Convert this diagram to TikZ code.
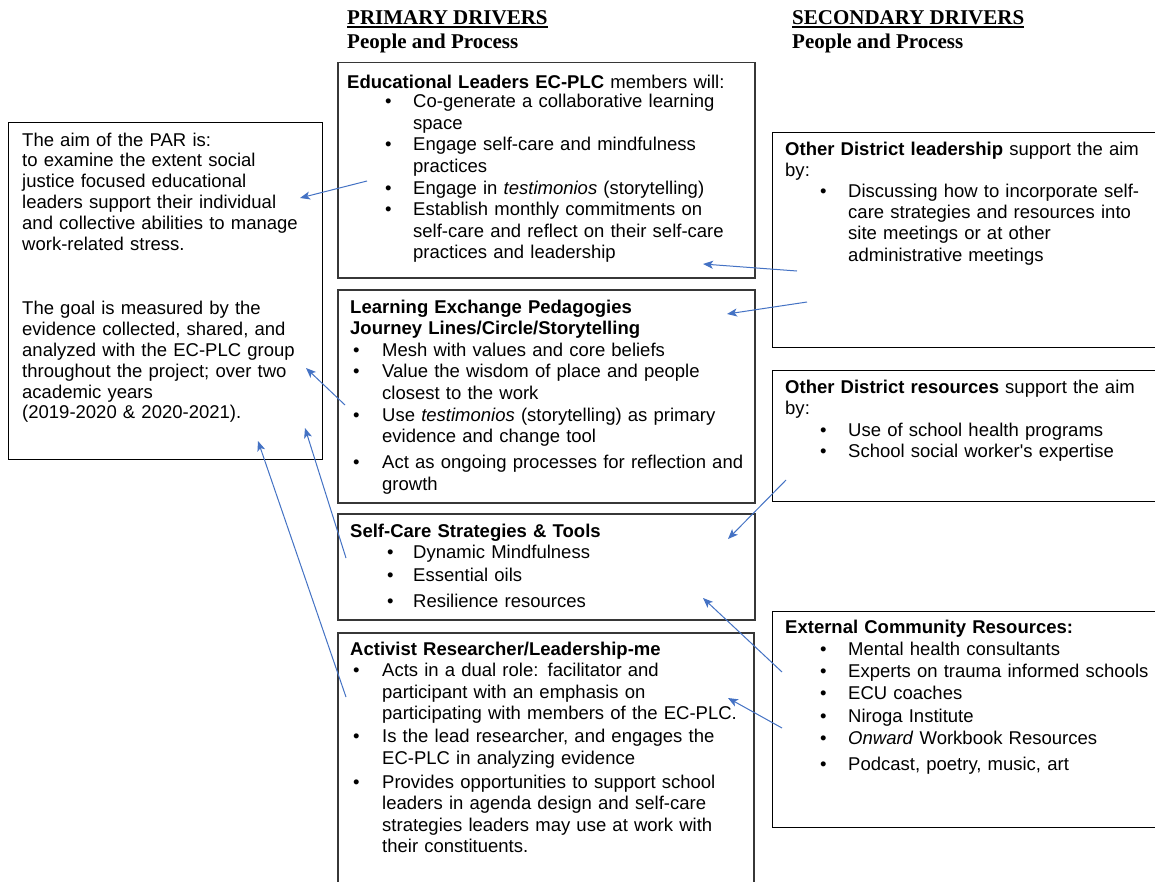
\documentclass[tikz,border=0pt]{standalone}
\usepackage{fontspec}
\setmainfont{Liberation Sans}
\newfontfamily\headfont{Liberation Serif}
\usetikzlibrary{arrows.meta,calc}
\definecolor{linkblue}{RGB}{68,114,196}
\definecolor{framegray}{RGB}{55,55,55}
% bullet item: #1 text indent, #2 bullet-to-text distance, #3 text
\newcommand\itm[3]{\par{\leftskip=#1\relax\noindent\llap{\makebox[#2][l]{\textbullet}}#3\par}}
% straight apostrophe, set as a glyph so no input mapping applies
\newcommand\straightquote{\XeTeXglyph\XeTeXglyphindex "quotesingle"\relax}

\begin{document}
\begin{tikzpicture}[x=1pt,y=-1pt,
  frame/.style={draw=framegray,line width=1.6pt,anchor=north west,inner sep=0pt},
  thinframe/.style={frame,draw=black,line width=1.1pt},
  body/.style={anchor=base west,inner sep=0pt,text width=440pt,align=left,
    font=\fontsize{18.5}{21.6}\selectfont},
  head/.style={anchor=base west,inner sep=0pt,
    font=\headfont\bfseries\fontsize{21}{24}\selectfont},
  uline/.style={draw=black,line width=1.4pt},
  link/.style={draw=linkblue,line width=1pt,-{Stealth[length=10pt,width=8pt,inset=2.5pt]}},
]
\useasboundingbox (0,0) rectangle (1155,881);
\fill[white] (0,0) rectangle (1155,881);

% column headings
\node[head] (prim) at (347,24.5) {PRIMARY DRIVERS};
\draw[uline] ($(prim.base west)+(0,2.6)$) -- ($(prim.base east)+(0,2.6)$);
\node[head] (primsub) at (347,48) {People and Process};
\node[head] (sec) at (792,24.5) {SECONDARY DRIVERS};
\draw[uline] ($(sec.base west)+(0,2.6)$) -- ($(sec.base east)+(0,2.6)$);
\node[head] (secsub) at (792,48) {People and Process};

% frames
\node[thinframe,minimum width=314pt,minimum height=337pt] (aimbox) at (8,122) {};
\node[frame,minimum width=417pt,minimum height=215.5pt] (eduleaders) at (337,61.5) {};
\node[frame,minimum width=417pt,minimum height=213pt] (exchange) at (337,289) {};
\node[frame,minimum width=417pt,minimum height=106pt] (selfcare) at (337,513) {};
\node[frame,minimum width=416pt,minimum height=260pt] (activist) at (337,632) {};
\node[thinframe,minimum width=390pt,minimum height=215pt] (distlead) at (772,132) {};
\node[thinframe,minimum width=390pt,minimum height=131pt] (distres) at (772,370) {};
\node[thinframe,minimum width=390pt,minimum height=216pt] (external) at (772,611) {};

% aim
\node[body,font=\fontsize{18.5}{20.9}\selectfont] (aimtext) at (22,146) {%
The aim of the PAR is:\\
to examine the extent social\\
justice focused educational\\
leaders support their individual\\
and collective abilities to manage\\
work-related stress.\\[43pt]
The goal is measured by the\\
evidence collected, shared, and\\
analyzed with the EC-PLC group\\
throughout the project; over two\\
academic years\\
(2019-2020 \& 2020-2021).};

% primary drivers
\node[body] (edutext) at (347,88) {%
\textbf{Educational Leaders EC-PLC} members will:\par\vspace{-2pt}
\itm{66pt}{28pt}{Co-generate a collaborative learning\\space}
\itm{66pt}{28pt}{Engage self-care and mindfulness\\practices}
\itm{66pt}{28pt}{Engage in \textit{testimonios} (storytelling)}
\itm{66pt}{28pt}{Establish monthly commitments on\\self-care and reflect on their self-care\\practices and leadership}};

\node[body] (exchtext) at (350,313) {%
\textbf{Learning Exchange Pedagogies}\\
\textbf{Journey Lines/Circle/Storytelling}
\itm{32pt}{29pt}{Mesh with values and core beliefs}
\itm{32pt}{29pt}{Value the wisdom of place and people\\closest to the work}
\itm{32pt}{29pt}{Use \textit{testimonios} (storytelling) as primary\\evidence and change tool}
\vspace{4.5pt}
\itm{32pt}{29pt}{Act as ongoing processes for reflection and\\growth}};

\node[body] (caretext) at (350,537) {%
\textbf{Self-Care Strategies \& Tools}
\itm{63pt}{26pt}{Dynamic Mindfulness}
\vspace{1.5pt}
\itm{63pt}{26pt}{Essential oils}
\vspace{4.5pt}
\itm{63pt}{26pt}{Resilience resources}};

\node[body] (acttext) at (350,655) {%
\textbf{Activist Researcher/Leadership-me}
\itm{32pt}{29pt}{Acts in a dual role: facilitator and\\participant with an emphasis on\\participating with members of the EC-PLC.}
\vspace{1pt}
\itm{32pt}{29pt}{Is the lead researcher, and engages the\\EC-PLC in analyzing evidence}
\vspace{2.5pt}
\itm{32pt}{29pt}{Provides opportunities to support school\\leaders in agenda design and self-care\\strategies leaders may use at work with\\their constituents.}};

% secondary drivers
\node[body,text width=380pt,font=\fontsize{18.5}{21.2}\selectfont] (leadtext) at (785,155) {%
\textbf{Other District leadership} support the aim\\by:
\itm{63pt}{28pt}{Discussing how to incorporate self-\\care strategies and resources into\\site meetings or at other\\administrative meetings}};

\node[body,text width=380pt] (restext) at (785,393) {%
\textbf{Other District resources} support the aim\\by:
\itm{63pt}{28pt}{Use of school health programs}
\itm{63pt}{28pt}{School social worker\straightquote s expertise}};

\node[body,text width=380pt,font=\fontsize{18.5}{22.3}\selectfont] (exttext) at (785,633) {%
\textbf{External Community Resources:}
\itm{63pt}{28pt}{Mental health consultants}
\itm{63pt}{28pt}{Experts on trauma informed schools}
\itm{63pt}{28pt}{ECU coaches}
\itm{63pt}{28pt}{Niroga Institute}
\itm{63pt}{28pt}{\textit{Onward} Workbook Resources}
\vspace{4pt}
\itm{63pt}{28pt}{Podcast, poetry, music, art}};

% connector end points
\coordinate (eduout)   at (367,181);
\coordinate (aimtop)   at (300,198);
\coordinate (leadout1) at (797,271);
\coordinate (eduin)    at (703,264);
\coordinate (leadout2) at (807,302);
\coordinate (exchin)   at (727,314);
\coordinate (resout)   at (786,480);
\coordinate (carein1)  at (728,539);
\coordinate (extout1)  at (782,672);
\coordinate (carein2)  at (703,598);
\coordinate (extout2)  at (782,728);
\coordinate (actin)    at (728,698);
\coordinate (exchout)  at (345,405);
\coordinate (aimmid)   at (306,368);
\coordinate (careout)  at (346,558);
\coordinate (aimlow1)  at (305,428);
\coordinate (actout)   at (346,697);
\coordinate (aimlow2)  at (258,441);

% connectors
\draw[link] (eduout) -- (aimtop);
\draw[link] (leadout1) -- (eduin);
\draw[link] (leadout2) -- (exchin);
\draw[link] (resout) -- (carein1);
\draw[link] (extout1) -- (carein2);
\draw[link] (extout2) -- (actin);
\draw[link] (exchout) -- (aimmid);
\draw[link] (careout) -- (aimlow1);
\draw[link] (actout) -- (aimlow2);
\end{tikzpicture}
\end{document}
